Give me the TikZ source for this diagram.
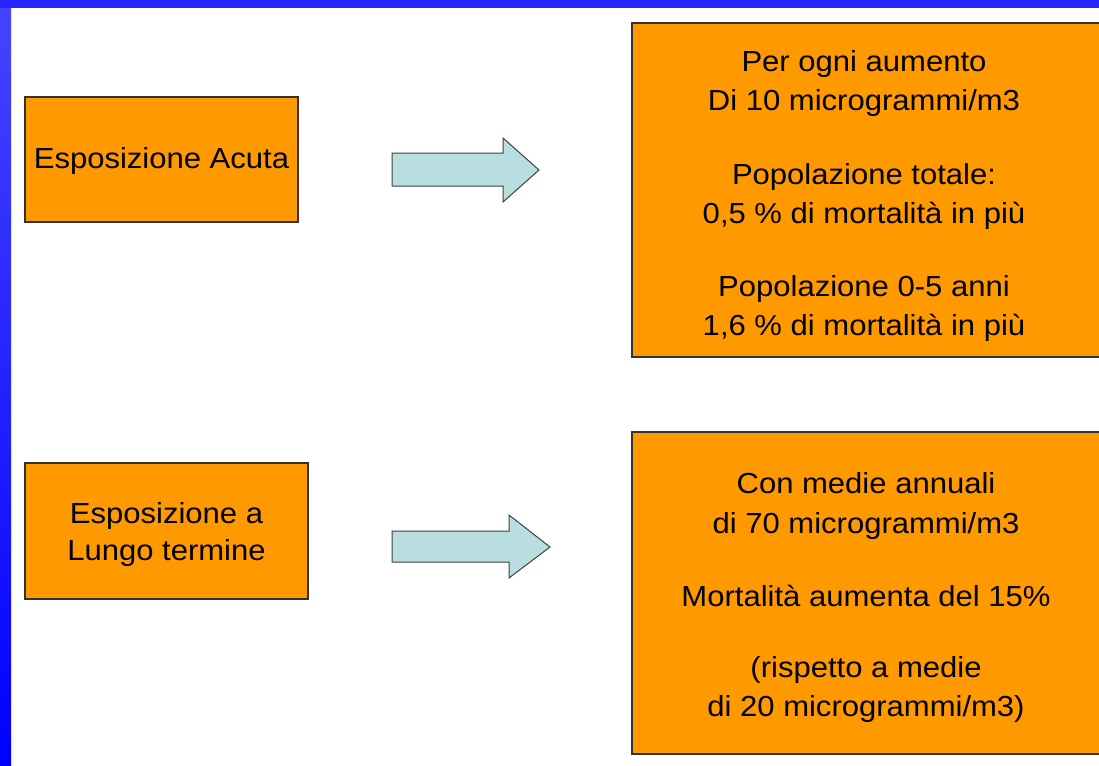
\documentclass[tikz,border=0pt]{standalone}
\usepackage{fontspec}
\setmainfont{Liberation Sans}[FakeStretch=1.07]
\definecolor{boxorange}{RGB}{255,153,0}
\definecolor{arrowfill}{RGB}{184,222,224}
\definecolor{frameblue}{RGB}{36,36,255}
\tikzset{
  obox/.style={draw=black!80, line width=1.3pt, fill=boxorange},
  otext/.style={align=center, font=\fontsize{29}{39.5}\selectfont, inner sep=0pt},
  barrow/.style={draw=black!75, line width=1pt, fill=arrowfill, line join=miter}
}
\begin{document}
\begin{tikzpicture}[x=1pt,y=-1pt]
\useasboundingbox (0,0) rectangle (1099,765);
\fill[white] (0,0) rectangle (1099,765);
% blue frame
\shade[top color=frameblue!85!white, bottom color=blue] (0,0) rectangle (11,765);
\fill[frameblue] (0,0) rectangle (1099,8);
% boxes
\draw[obox] (25,97) rectangle (298,222);
\node[otext] (acuta) at (161.5,161) {Esposizione Acuta};
\draw[obox] (25,463) rectangle (308,599);
\node[otext, font=\fontsize{29}{37}\selectfont] (lungo) at (166.5,534) {Esposizione a\\Lungo termine};
\draw[obox] (632,23) rectangle (1110,357);
\node[otext] (effA) at (864,196) {Per ogni aumento\\Di 10 microgrammi/m3\\[34pt]Popolazione totale:\\0,5 \% di mortalità in più\\[33pt]Popolazione 0-5 anni\\1,6 \% di mortalità in più};
\draw[obox] (632,432) rectangle (1110,754);
\node[otext] (effB) at (866,597.5) {Con medie annuali\\di 70 microgrammi/m3\\[34pt]Mortalità aumenta del 15\%\\[31pt](rispetto a medie\\di 20 microgrammi/m3)};
% block arrows
\draw[barrow] (392,153) -- (503,153) -- (503,138) -- (539,170) -- (503,202) -- (503,186) -- (392,186) -- cycle;
\draw[barrow] (392,531) -- (509,531) -- (509,515) -- (550,547) -- (509,578) -- (509,562) -- (392,562) -- cycle;
\end{tikzpicture}
\end{document}
